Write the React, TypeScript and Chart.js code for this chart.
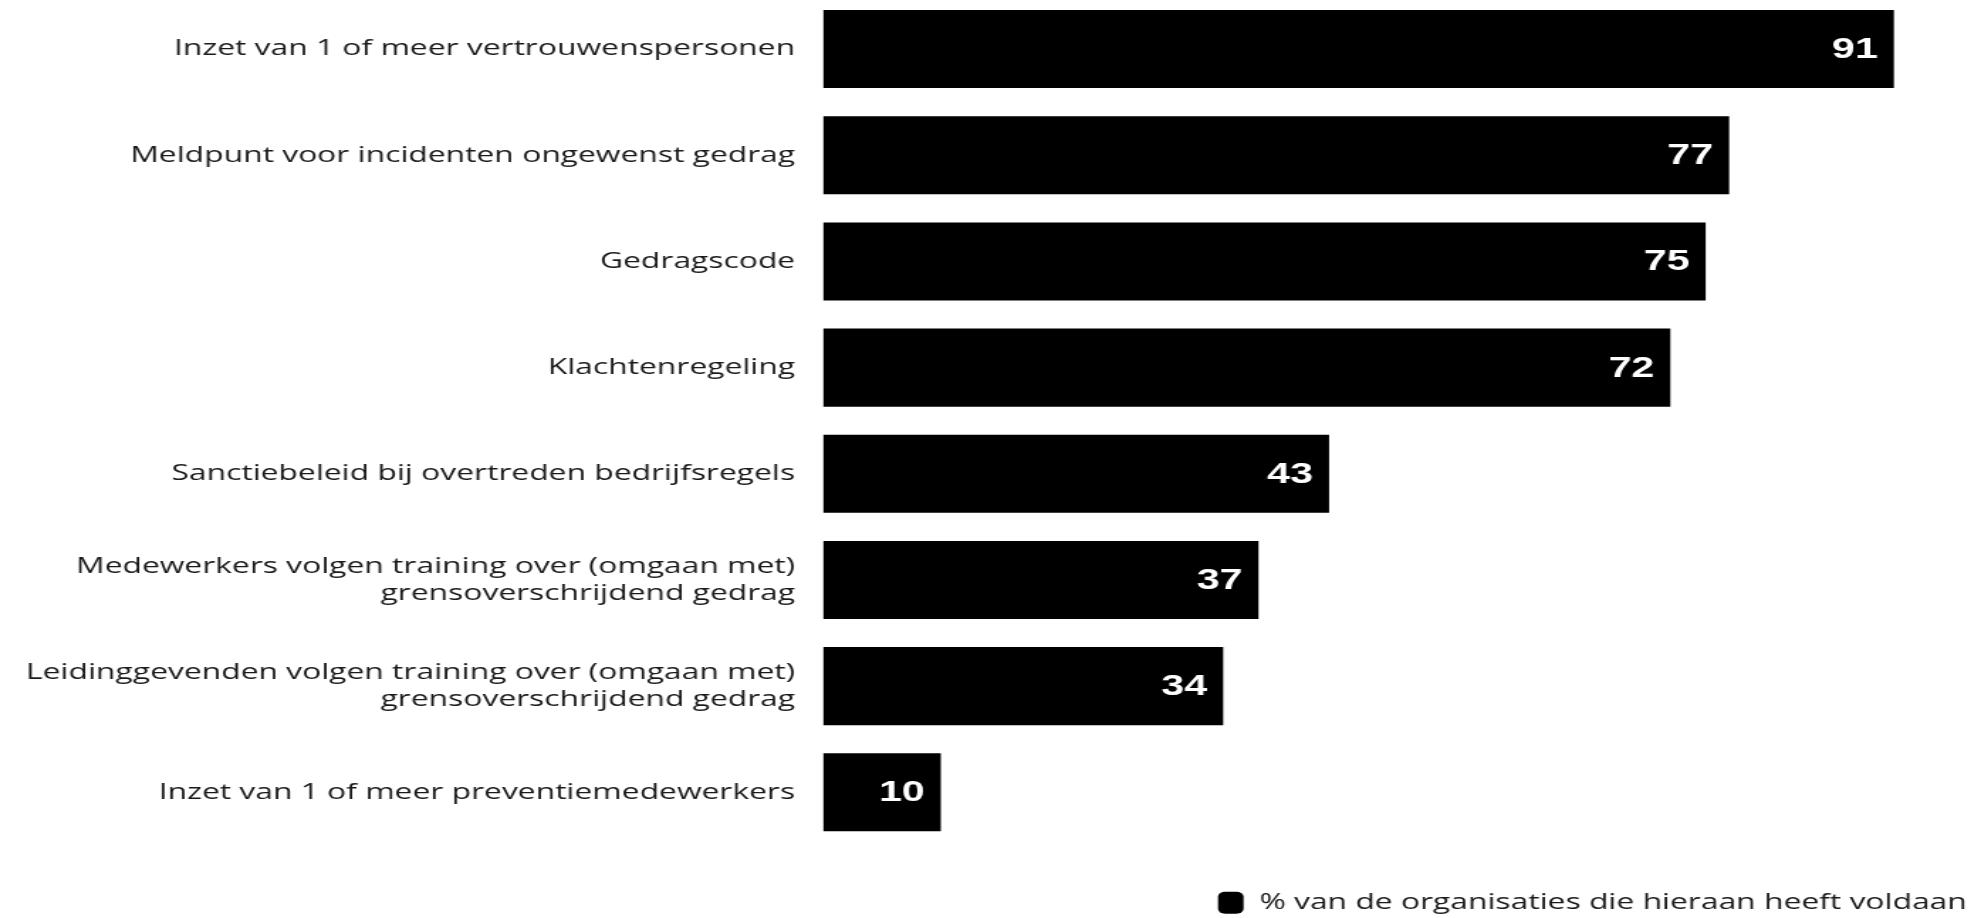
import React, { useEffect, useRef } from "react";
import { Chart, registerables } from "chart.js";

Chart.register(...registerables);

const categories: (string | string[])[] = [
  "Inzet van 1 of meer vertrouwenspersonen",
  "Meldpunt voor incidenten ongewenst gedrag",
  "Gedragscode",
  "Klachtenregeling",
  "Sanctiebeleid bij overtreden bedrijfsregels",
  ["Medewerkers volgen training over (omgaan met)", "grensoverschrijdend gedrag"],
  ["Leidinggevenden volgen training over (omgaan met)", "grensoverschrijdend gedrag"],
  "Inzet van 1 of meer preventiemedewerkers",
];

const values: number[] = [91, 77, 75, 72, 43, 37, 34, 10];

const seriesLabel = "% van de organisaties die hieraan heeft voldaan";

// The reference image is horizontally stretched; render narrower and stretch via CSS.
const STRETCH = 1.42;
const CANVAS_W = 1395;
const CANVAS_H = 928;

const LABEL_FONT = "'Open Sans', 'Noto Sans', sans-serif";

const valueLabelPlugin = {
  id: "valueLabels",
  afterDatasetsDraw(chart: any) {
    const ctx = chart.ctx;
    const meta = chart.getDatasetMeta(0);
    ctx.save();
    ctx.fillStyle = "#ffffff";
    ctx.font = "bold 29px 'Liberation Sans', Arial, sans-serif";
    ctx.textAlign = "right";
    ctx.textBaseline = "middle";
    meta.data.forEach((bar: any, i: number) => {
      const v = chart.data.datasets[0].data[i];
      ctx.fillText(String(v), bar.x - 11.3, bar.y + 1);
    });
    ctx.restore();
  },
};

export default function App() {
  const ref = useRef<HTMLCanvasElement | null>(null);

  useEffect(() => {
    if (!ref.current) return;
    const chart = new Chart(ref.current, {
      type: "bar",
      data: {
        labels: categories,
        datasets: [
          {
            label: seriesLabel,
            data: values,
            backgroundColor: "#000000",
            borderWidth: 0,
            categoryPercentage: 1,
            barPercentage: 0.735,
          },
        ],
      },
      plugins: [valueLabelPlugin],
      options: {
        indexAxis: "y",
        animation: false,
        responsive: false,
        maintainAspectRatio: false,
        devicePixelRatio: 1,
        layout: { padding: { top: 0, right: 0, left: 0, bottom: 0 } },
        plugins: {
          tooltip: { enabled: false },
          legend: {
            display: true,
            position: "bottom",
            align: "end",
            labels: {
              color: "#1a1a1a",
              font: { family: LABEL_FONT, size: 22.4 },
              boxWidth: 18,
              boxHeight: 22,
              useBorderRadius: true,
              borderRadius: 5,
              padding: 10,
            },
          },
        },
        scales: {
          x: {
            display: true,
            min: 0,
            max: 98.4,
            grid: { display: false, drawTicks: false },
            border: { display: false },
            ticks: { display: false },
            title: {
              display: true,
              text: "",
              color: "rgba(0,0,0,0)",
              font: { size: 36.2, lineHeight: 1 },
              padding: { top: 0, bottom: 0 },
            },
          },
          y: {
            grid: { display: false, drawTicks: false },
            border: { display: false },
            ticks: {
              color: "#1a1a1a",
              padding: 19.7,
              font: { family: LABEL_FONT, size: 22.4, lineHeight: 1.2 },
            },
            afterFit: (scale: any) => {
              scale.width = 579.6;
              scale.paddingTop = 0;
              scale.paddingBottom = 0;
            },
          },
        },
      },
    });
    return () => chart.destroy();
  }, []);

  return (
    <div
      style={{
        position: "fixed",
        left: 0,
        top: 0,
        width: 1973,
        height: 918,
        overflow: "hidden",
        background: "#fff",
      }}
    >
      <canvas
        ref={ref}
        width={CANVAS_W}
        height={CANVAS_H}
        style={{
          position: "absolute",
          left: 0,
          top: -4,
          width: CANVAS_W * STRETCH,
          height: CANVAS_H,
          display: "block",
        }}
      />
    </div>
  );
}
